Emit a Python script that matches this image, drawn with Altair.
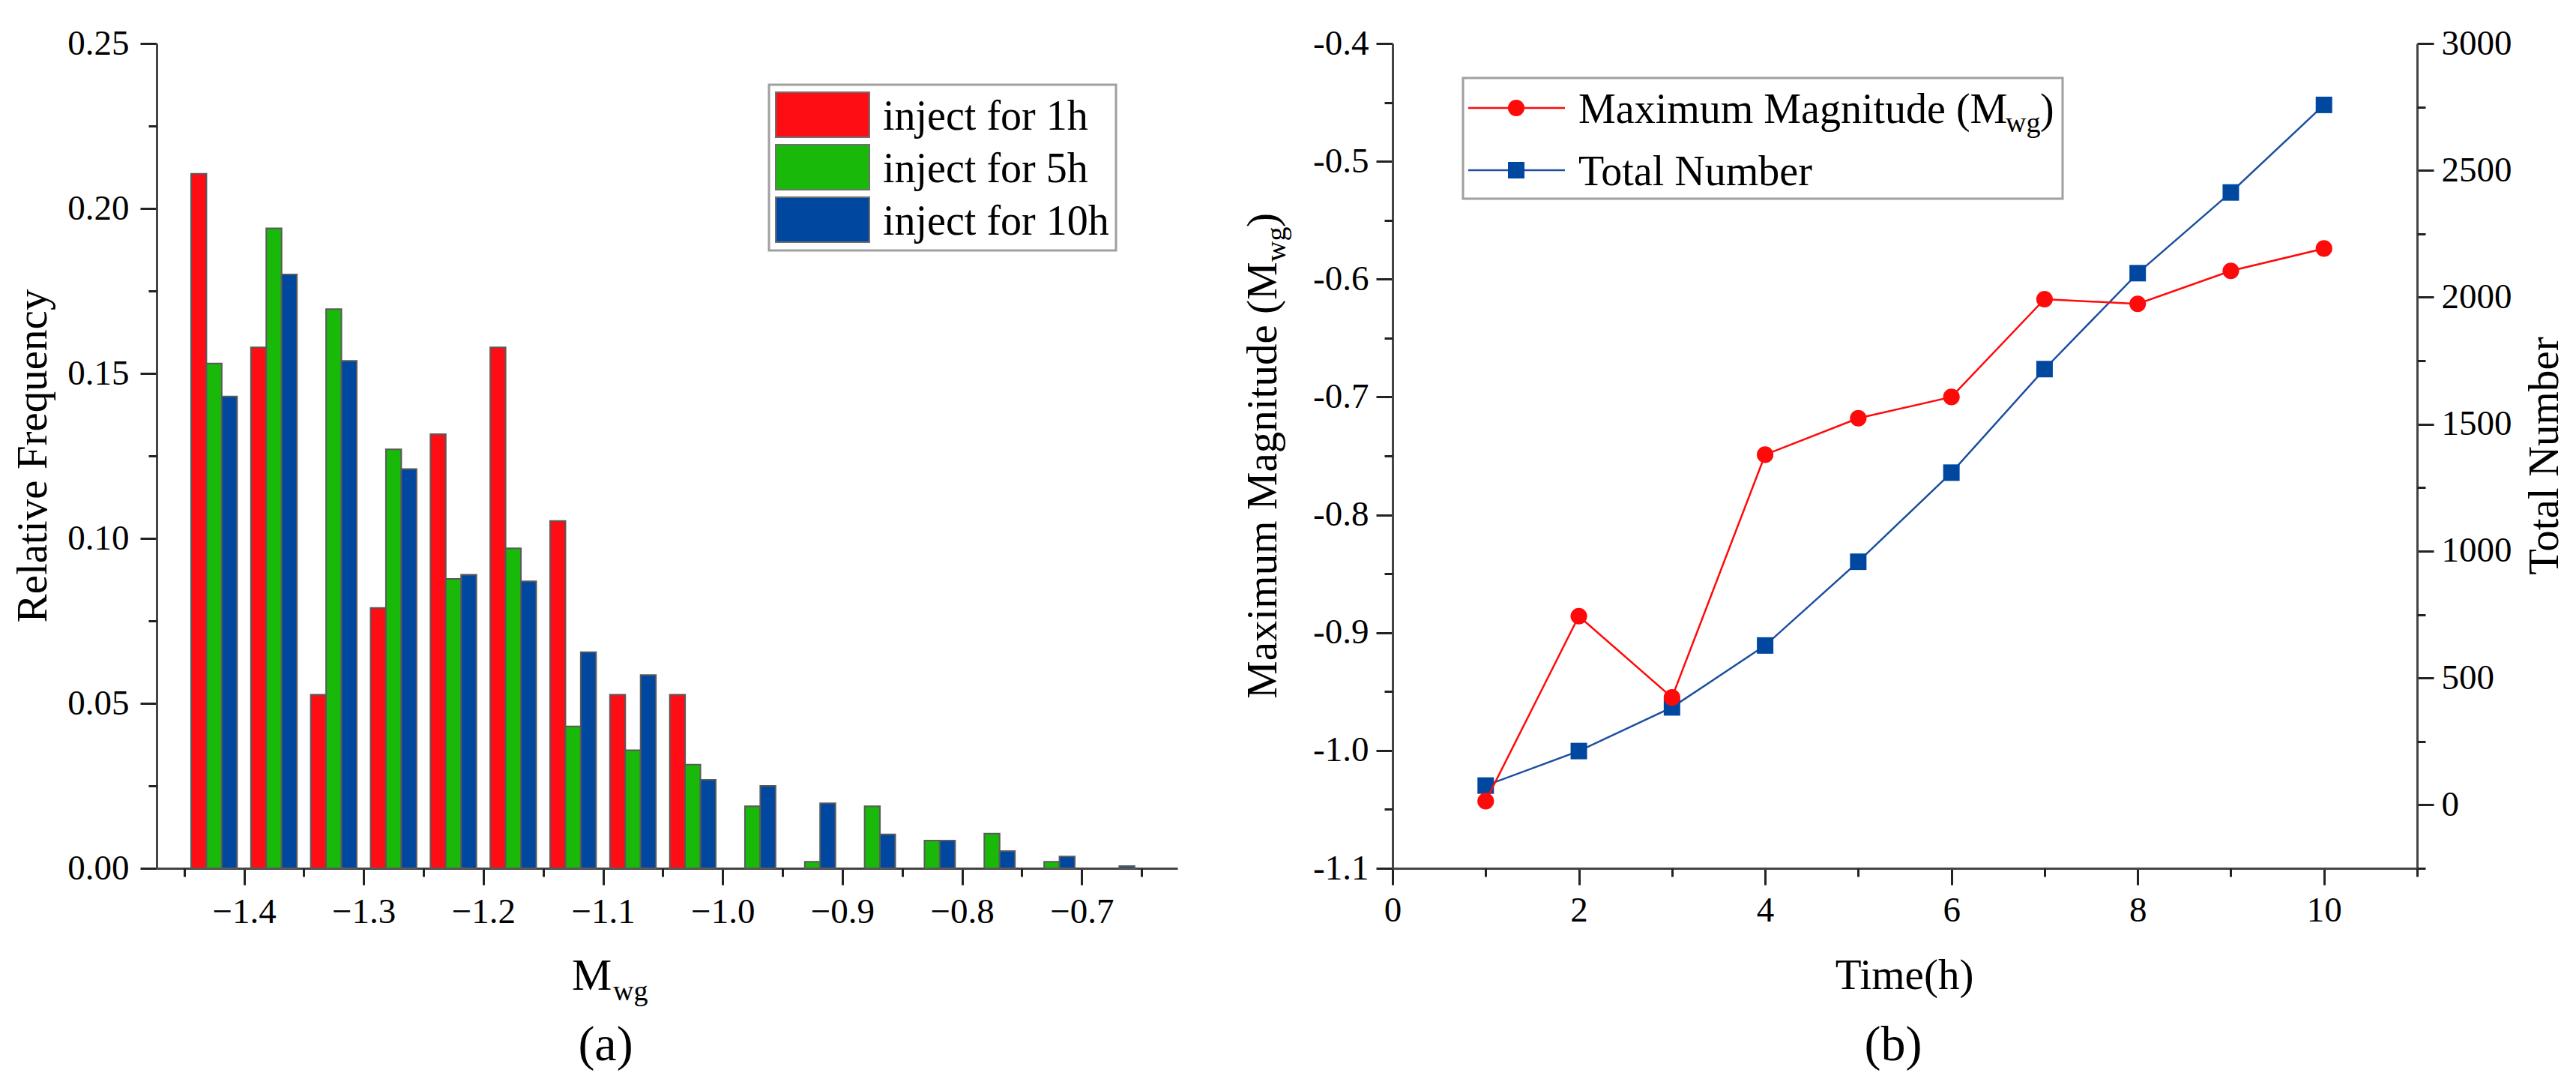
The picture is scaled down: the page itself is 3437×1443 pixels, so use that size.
import pandas as pd
import altair as alt

# (a) relative frequency of M_wg per bin
bin_centers = [-1.425, -1.375, -1.325, -1.275, -1.225, -1.175, -1.125, -1.075,
               -1.025, -0.975, -0.925, -0.875, -0.825, -0.775, -0.725, -0.675]
series_a = ["inject for 1h", "inject for 5h", "inject for 10h"]
freq_1h = [0.2105, 0.1579, 0.0526, 0.0789, 0.1316, 0.1579, 0.1053, 0.0526,
           0.0526, 0, 0, 0, 0, 0, 0, 0]
freq_5h = [0.153, 0.194, 0.1695, 0.127, 0.0877, 0.097, 0.043, 0.0358,
           0.0314, 0.0188, 0.002, 0.0188, 0.0084, 0.0105, 0.002, 0]
freq_10h = [0.143, 0.180, 0.1538, 0.121, 0.089, 0.087, 0.0655, 0.0586,
            0.0268, 0.025, 0.0197, 0.0103, 0.0084, 0.0052, 0.0036, 0.0007]
x_major_a = [-1.4, -1.3, -1.2, -1.1, -1.0, -0.9, -0.8, -0.7]
x_minor_a = [-1.45, -1.35, -1.25, -1.15, -1.05, -0.95, -0.85, -0.75, -0.65]
y_major_a = [0, 0.05, 0.10, 0.15, 0.20, 0.25]
y_minor_a = [0.025, 0.075, 0.125, 0.175, 0.225]

# (b) maximum magnitude and total number over time
hours = [1, 2, 3, 4, 5, 6, 7, 8, 9, 10]
max_mag = [-1.043, -0.886, -0.955, -0.749, -0.718, -0.700, -0.617, -0.621, -0.593, -0.574]
total_num = [76, 212, 384, 628, 958, 1309, 1717, 2095, 2413, 2758]
x_major_b = [0, 2, 4, 6, 8, 10]
x_minor_b = [1, 3, 5, 7, 9, 11]
y_major_mag = [-1.1, -1.0, -0.9, -0.8, -0.7, -0.6, -0.5, -0.4]
y_minor_mag = [-1.05, -0.95, -0.85, -0.75, -0.65, -0.55, -0.45]
y_major_tot = [0, 500, 1000, 1500, 2000, 2500, 3000]
y_minor_tot = [-250, 250, 750, 1250, 1750, 2250, 2750]

FONT = "Liberation Serif"
colors_a = ["#ff0d14", "#19b90a", "#0047a0"]
RED = "#ff0a0a"
BLUE = "#0047a0"
BAR_W = 0.0128
W_A, W_B, H = 1362, 1367, 1100

rows = []
for k, (name, vals) in enumerate(zip(series_a, [freq_1h, freq_5h, freq_10h])):
    for c, v in zip(bin_centers, vals):
        if v > 0:
            x0 = c + (k - 1.5) * BAR_W
            rows.append({"series": name, "x0": x0, "x1": x0 + BAR_W, "freq": v})
df_a = pd.DataFrame(rows)
df_b = pd.DataFrame({"time": hours, "mag": max_mag, "total": total_num})
one = pd.DataFrame({"k": [0]})


def axis(orient, values, size=22, labels=True, fmt=None, expr=None, pad=12):
    kw = dict(orient=orient, values=values, tickSize=size, labels=labels,
              domain=labels, title="", grid=False, labelPadding=pad, labelFlush=False,
              labelFont=FONT, labelFontSize=47, labelColor="black",
              domainColor="#444", domainWidth=3, tickColor="#222", tickWidth=3)
    if fmt:
        kw["format"] = fmt
    if expr:
        kw["labelExpr"] = expr
    return alt.Axis(**kw)


def txt(s, x, y, size=57, angle=0, align="center"):
    return alt.Chart(one).mark_text(
        text=s, font=FONT, fontSize=size, angle=angle, align=align,
        baseline="alphabetic", color="black"
    ).encode(x=alt.value(x), y=alt.value(y))


def box(x, x2, y, y2, fill="white", stroke="#a0a0a0", sw=3):
    return alt.Chart(one).mark_rect(fill=fill, stroke=stroke, strokeWidth=sw).encode(
        x=alt.value(x), x2=alt.value(x2), y=alt.value(y), y2=alt.value(y2))


# ---- panel (a)
xs_a = alt.Scale(domain=[-1.473, -0.62], nice=False, zero=False)
ys_a = alt.Scale(domain=[0, 0.25], nice=False)

bars = alt.Chart(df_a).mark_bar(stroke="#5a5a5a", strokeWidth=2).encode(
    x=alt.X("x0:Q", scale=xs_a, axis=axis("bottom", x_major_a, fmt=".1f", pad=13)),
    x2="x1:Q",
    y=alt.Y("freq:Q", scale=ys_a, axis=axis("left", y_major_a, fmt=".2f", pad=15)),
    y2=alt.datum(0),
    color=alt.Color("series:N", scale=alt.Scale(domain=series_a, range=colors_a), legend=None),
)
minor_a = alt.Chart(df_a).mark_point(opacity=0).encode(
    x=alt.X("x0:Q", scale=xs_a, axis=axis("bottom", x_minor_a, size=11, labels=False)),
    y=alt.Y("freq:Q", scale=ys_a, axis=axis("left", y_minor_a, size=11, labels=False)),
)
data_a = alt.layer(bars, minor_a).resolve_axis(x="independent", y="independent")

legend_a = [box(817, 1280, 55, 276)]
for i, name in enumerate(series_a):
    top = 65 + 70 * i
    legend_a.append(box(826, 951, top, top + 60, fill=colors_a[i], stroke="#707070", sw=2))
    legend_a.append(txt(name, 969, top + 50, size=56, align="left"))

panel_a = alt.layer(
    data_a, *legend_a,
    txt("Relative Frequency", -147, H / 2, angle=270),
    txt("M", 554, 1262, size=60, align="left"),
    txt("wg", 609, 1276, size=38, align="left"),
    txt("(a)", 599, 1356, size=66),
).properties(width=W_A, height=H)

# ---- panel (b)
xs_b = alt.Scale(domain=[0, 11], nice=False)
ys_mag = alt.Scale(domain=[-1.1, -0.4], nice=False, zero=False)
ys_tot = alt.Scale(domain=[-250, 3000], nice=False, zero=False)
hyphen = "replace(format(datum.value, '.1f'), '\u2212', '-')"

base_b = alt.Chart(df_b)
red_line = base_b.mark_line(color=RED, strokeWidth=2.5).encode(
    x=alt.X("time:Q", scale=xs_b, axis=axis("bottom", x_major_b, fmt="d", pad=11)),
    y=alt.Y("mag:Q", scale=ys_mag, axis=axis("left", y_major_mag, expr=hyphen, pad=10)),
)
red_pts = base_b.mark_point(filled=True, shape="circle", size=490, color=RED, opacity=1).encode(
    x=alt.X("time:Q", scale=xs_b, axis=None),
    y=alt.Y("mag:Q", scale=ys_mag, axis=None),
)
red_minor = base_b.mark_point(opacity=0).encode(
    x=alt.X("time:Q", scale=xs_b, axis=axis("bottom", x_minor_b, size=11, labels=False)),
    y=alt.Y("mag:Q", scale=ys_mag, axis=axis("left", y_minor_mag, size=11, labels=False)),
)
left_grp = alt.layer(red_line, red_pts, red_minor).resolve_axis(x="independent", y="independent")

blue_line = base_b.mark_line(color="#1d4f9f", strokeWidth=2.5).encode(
    x=alt.X("time:Q", scale=xs_b, axis=None),
    y=alt.Y("total:Q", scale=ys_tot, axis=axis("right", y_major_tot, fmt="d", pad=10)),
)
blue_pts = base_b.mark_point(filled=True, shape="square", size=484, color=BLUE, opacity=1).encode(
    x=alt.X("time:Q", scale=xs_b, axis=None),
    y=alt.Y("total:Q", scale=ys_tot, axis=None),
)
blue_minor = base_b.mark_point(opacity=0).encode(
    x=alt.X("time:Q", scale=xs_b, axis=None),
    y=alt.Y("total:Q", scale=ys_tot, axis=axis("right", y_minor_tot, size=11, labels=False)),
)
right_grp = alt.layer(blue_line, blue_pts, blue_minor).resolve_axis(y="independent")

legend_b = [
    box(94, 894, 46, 207),
    alt.Chart(one).mark_rule(color=RED, strokeWidth=2.5).encode(
        x=alt.value(101), x2=alt.value(230), y=alt.value(86)),
    alt.Chart(one).mark_point(filled=True, shape="circle", size=490, color=RED, opacity=1).encode(
        x=alt.value(165), y=alt.value(86)),
    alt.Chart(one).mark_rule(color="#1d4f9f", strokeWidth=2.5).encode(
        x=alt.value(101), x2=alt.value(230), y=alt.value(169)),
    alt.Chart(one).mark_point(filled=True, shape="square", size=484, color=BLUE, opacity=1).encode(
        x=alt.value(165), y=alt.value(169)),
    txt("Maximum Magnitude (M", 248, 106, size=56, align="left"),
    txt("wg", 818, 118, size=38, align="left"),
    txt(")", 864, 106, size=56, align="left"),
    txt("Total Number", 248, 189, size=56, align="left"),
]

panel_b = alt.layer(
    right_grp, left_grp, *legend_b,
    txt("Maximum Magnitude (M", -155, 874, angle=270, align="left"),
    txt("wg", -143, 291, size=38, angle=270, align="left"),
    txt(")", -155, 245, angle=270, align="left"),
    txt("Total Number", 1555, H / 2, angle=270),
    txt("Time(h)", 683, 1261),
    txt("(b)", 668, 1356, size=66),
).resolve_scale(y="independent").properties(width=W_B, height=H)

chart = alt.hconcat(panel_a, panel_b, spacing=85).properties(
    padding={"left": 8, "top": 26, "right": 5, "bottom": 5}
).configure_view(strokeWidth=0)

chart.save("out.html", embed_options={"renderer": "svg", "actions": False})
